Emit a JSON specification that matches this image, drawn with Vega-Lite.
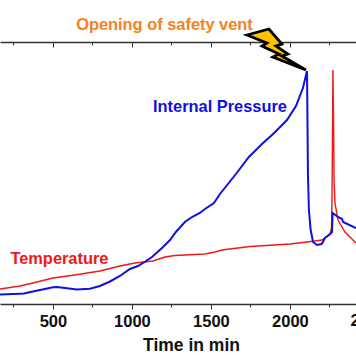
{
"$schema":"https://vega.github.io/schema/vega-lite/v6.json",
"width":356,"height":262,"autosize":"none",
"padding":{"left":0,"top":42,"right":0,"bottom":60},
"background":"white",
"view":{"stroke":null},
"config":{"font":"Liberation Sans"},
"datasets":{
"curves":[
{"t":165,"v":9.5,"s":"Pressure"},{"t":291,"v":10.3,"s":"Pressure"},{"t":316,"v":10.5,"s":"Pressure"},{"t":373,"v":12.5,"s":"Pressure"},{"t":449,"v":15,"s":"Pressure"},{"t":500,"v":16.8,"s":"Pressure"},{"t":525,"v":17,"s":"Pressure"},{"t":576,"v":16,"s":"Pressure"},{"t":652,"v":14.5,"s":"Pressure"},{"t":734,"v":15.3,"s":"Pressure"},{"t":797,"v":18,"s":"Pressure"},{"t":861,"v":22.5,"s":"Pressure"},{"t":924,"v":28,"s":"Pressure"},{"t":987,"v":35,"s":"Pressure"},{"t":1038,"v":38,"s":"Pressure"},{"t":1080,"v":42,"s":"Pressure"},{"t":1127,"v":47,"s":"Pressure"},{"t":1190,"v":56,"s":"Pressure"},{"t":1241,"v":64,"s":"Pressure"},{"t":1278,"v":72,"s":"Pressure"},{"t":1335,"v":82,"s":"Pressure"},{"t":1380,"v":87,"s":"Pressure"},{"t":1430,"v":91,"s":"Pressure"},{"t":1462,"v":95,"s":"Pressure"},{"t":1519,"v":101,"s":"Pressure"},{"t":1557,"v":110,"s":"Pressure"},{"t":1658,"v":130,"s":"Pressure"},{"t":1740,"v":147,"s":"Pressure"},{"t":1823,"v":160,"s":"Pressure"},{"t":1900,"v":171,"s":"Pressure"},{"t":1981,"v":184,"s":"Pressure"},{"t":2038,"v":198,"s":"Pressure"},{"t":2082,"v":216,"s":"Pressure"},{"t":2108,"v":233,"s":"Pressure"},{"t":2114,"v":129,"s":"Pressure"},{"t":2120,"v":94,"s":"Pressure"},{"t":2131,"v":74,"s":"Pressure"},{"t":2146,"v":62,"s":"Pressure"},{"t":2171,"v":59,"s":"Pressure"},{"t":2201,"v":60,"s":"Pressure"},{"t":2222,"v":66,"s":"Pressure"},{"t":2254,"v":70,"s":"Pressure"},{"t":2266,"v":72,"s":"Pressure"},{"t":2270,"v":91,"s":"Pressure"},{"t":2304,"v":87,"s":"Pressure"},{"t":2330,"v":85,"s":"Pressure"},{"t":2336,"v":82,"s":"Pressure"},{"t":2418,"v":76,"s":"Pressure"},
{"t":165,"v":15,"s":"Temperature"},{"t":291,"v":18,"s":"Temperature"},{"t":373,"v":21,"s":"Temperature"},{"t":500,"v":26,"s":"Temperature"},{"t":658,"v":29.5,"s":"Temperature"},{"t":797,"v":33,"s":"Temperature"},{"t":924,"v":38,"s":"Temperature"},{"t":1019,"v":41,"s":"Temperature"},{"t":1133,"v":43,"s":"Temperature"},{"t":1209,"v":47,"s":"Temperature"},{"t":1272,"v":48.5,"s":"Temperature"},{"t":1462,"v":50,"s":"Temperature"},{"t":1525,"v":52,"s":"Temperature"},{"t":1570,"v":54,"s":"Temperature"},{"t":1747,"v":57.5,"s":"Temperature"},{"t":2000,"v":60,"s":"Temperature"},{"t":2158,"v":63,"s":"Temperature"},{"t":2203,"v":64,"s":"Temperature"},{"t":2254,"v":70,"s":"Temperature"},{"t":2263,"v":76,"s":"Temperature"},{"t":2266,"v":104,"s":"Temperature"},{"t":2270,"v":184,"s":"Temperature"},{"t":2272,"v":234,"s":"Temperature"},{"t":2276,"v":184,"s":"Temperature"},{"t":2279,"v":124,"s":"Temperature"},{"t":2285,"v":101,"s":"Temperature"},{"t":2304,"v":84,"s":"Temperature"},{"t":2348,"v":72,"s":"Temperature"},{"t":2418,"v":61,"s":"Temperature"}
],
"bolt":[
{"o":1,"t":1728,"v":269},{"o":2,"t":1867,"v":275},{"o":3,"t":1949,"v":260},{"o":4,"t":1911,"v":258},{"o":5,"t":1987,"v":250},{"o":6,"t":1949,"v":248},{"o":7,"t":2101,"v":234},{"o":8,"t":1892,"v":247},{"o":9,"t":1930,"v":250},{"o":10,"t":1823,"v":258},{"o":11,"t":1854,"v":261}
],
"labels":[
{"t":1206,"v":279,"label":"Opening of safety vent","s":"Vent"},
{"t":1557,"v":197.5,"label":"Internal Pressure","s":"Pressure"},
{"t":541,"v":45.5,"label":"Temperature","s":"Temperature"}
],
"extra":[{"t":2500,"v":-17,"label":"2500"}]
},
"layer":[
{"data":{"name":"curves"},
 "transform":[{"filter":"datum.s==='Temperature'"}],
 "mark":{"type":"line","strokeWidth":1.4,"clip":true,"interpolate":"linear"},
 "encoding":{
  "x":{"field":"t","type":"quantitative","scale":{"domain":[165,2418],"nice":false,"zero":false},
   "axis":{"orient":"bottom","values":[250,500,750,1000,1250,1500,1750,2000,2250],"grid":false,"title":"Time in min","titleFontSize":17.5,"titleFontWeight":"bold","titleColor":"#111","titleX":191,"titleY":41,"titleBaseline":"middle","labelFontSize":16.5,"labelFontWeight":"bold","labelColor":"#111","labelPadding":4,"labelOverlap":false,"labelBound":false,"labelFlush":false,"labelExpr":"datum.value%500===0?datum.label:''","format":"d","domainColor":"#333","domainWidth":1.3,"tickColor":"#333","tickWidth":1,"tickSize":{"condition":{"test":"datum.value%500===0","value":5},"value":3}}},
  "y":{"field":"v","type":"quantitative","scale":{"domain":[0,262],"nice":false,"zero":false},"axis":null},
  "color":{"field":"s","type":"nominal","scale":{"domain":["Pressure","Temperature","Vent"],"range":["#1010E0","#F01818","#F58220"]},"legend":null}}},
{"data":{"name":"curves"},
 "transform":[{"filter":"datum.s==='Pressure'"}],
 "mark":{"type":"line","strokeWidth":2,"clip":true},
 "encoding":{
  "x":{"field":"t","type":"quantitative","axis":null},
  "y":{"field":"v","type":"quantitative","axis":null},
  "color":{"field":"s","type":"nominal","legend":null}}},
{"data":{"name":"bolt"},
 "mark":{"type":"line","interpolate":"linear-closed","fill":"#FFC000","stroke":"#000","strokeWidth":2.8,"strokeJoin":"miter","clip":false},
 "encoding":{
  "x":{"field":"t","type":"quantitative",
   "axis":{"orient":"top","values":[250,500,750,1000,1250,1500,1750,2000,2250],"grid":false,"title":null,"labels":false,"domainColor":"#333","domainWidth":1.3,"tickColor":"#333","tickWidth":1,"tickSize":{"condition":{"test":"datum.value%500===0","value":-5},"value":-3}}},
  "y":{"field":"v","type":"quantitative","axis":null},
  "order":{"field":"o","type":"quantitative"}}},
{"data":{"name":"labels"},
 "mark":{"type":"text","fontSize":16.4,"fontWeight":"bold","align":"center","baseline":"middle","clip":false},
 "encoding":{
  "x":{"field":"t","type":"quantitative","axis":null},
  "y":{"field":"v","type":"quantitative","axis":null},
  "text":{"field":"label"},
  "color":{"field":"s","type":"nominal","legend":null}}},
{"data":{"name":"extra"},
 "mark":{"type":"text","fontSize":16.5,"fontWeight":"bold","align":"center","baseline":"middle","clip":false,"color":"#111"},
 "encoding":{
  "x":{"field":"t","type":"quantitative","axis":null},
  "y":{"field":"v","type":"quantitative","axis":null},
  "text":{"field":"label"}}}
],
"resolve":{"axis":{"x":"independent"}}
}
